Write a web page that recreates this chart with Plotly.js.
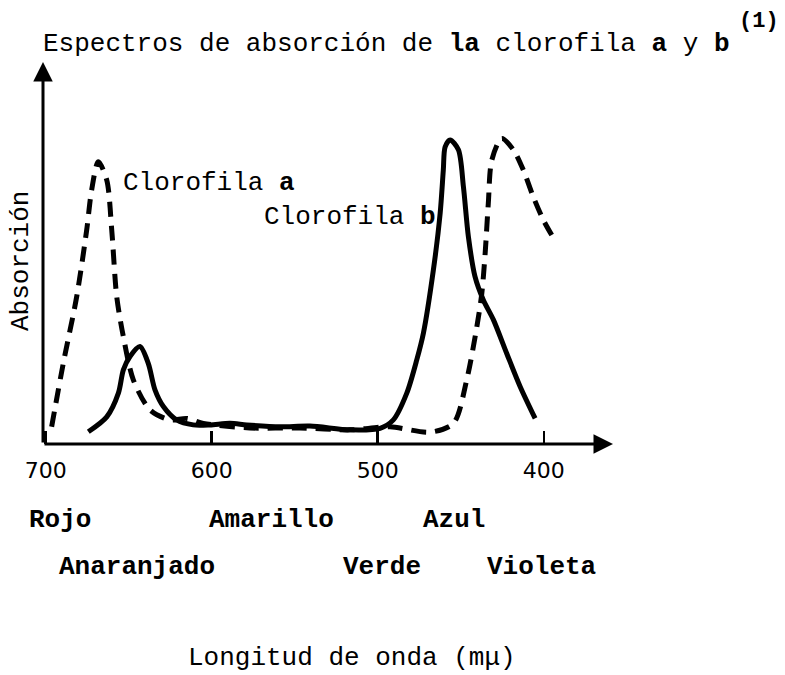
<!DOCTYPE html>
<html>
<head>
<meta charset="utf-8">
<script src="https://cdn.plot.ly/plotly-3.0.1.min.js"></script>
<style>html,body{margin:0;padding:0;background:#fff;}#chart{width:785px;height:675px;}</style>
</head>
<body>
<div id="chart"></div>
<script>
// Wavelength (mμ) and relative absorption
const clorofilaA_nm = [696.4, 689.4, 681.3, 675.3, 672.3, 668.3, 663.2, 660.2, 657.2, 653.2, 647.2, 637.1, 625.1, 615.0, 605.0, 577.0, 546.8, 516.7, 492.6, 468.5, 454.4, 446.4, 440.3, 437.3, 435.3, 433.4, 431.3, 425.3, 418.3, 412.3, 406.3, 400.2, 395.2];
const clorofilaA_abs = [4.5, 21.1, 38.6, 56.0, 66.5, 73.9, 69.1, 56.0, 38.6, 28.1, 16.8, 8.9, 6.3, 6.7, 5.4, 4.2, 4.2, 3.7, 4.5, 3.1, 5.4, 16.8, 30.7, 39.5, 49.9, 63.0, 74.3, 80.0, 77.0, 71.7, 64.7, 58.6, 54.7];

const clorofilaB_nm = [674.3, 663.2, 656.2, 653.2, 649.2, 643.2, 638.2, 634.1, 629.1, 621.1, 611.1, 601.0, 589.0, 578.9, 558.8, 540.8, 516.7, 498.6, 490.6, 482.5, 476.5, 472.5, 466.5, 462.4, 460.5, 459.4, 456.4, 451.4, 448.4, 445.4, 441.4, 436.4, 430.3, 422.3, 414.2, 405.2];
const clorofilaB_abs = [3.2, 7.1, 13.3, 19.4, 22.9, 25.5, 21.1, 14.1, 9.8, 6.3, 5.0, 5.0, 5.4, 5.0, 4.5, 4.7, 3.7, 4.1, 6.3, 13.3, 22.0, 29.0, 45.5, 60.4, 71.7, 77.8, 79.6, 77.0, 67.4, 54.3, 43.8, 37.7, 32.5, 23.7, 15.0, 6.7];

const tickValues = [700, 600, 500, 400];
const tickLabels = ['700', '600', '500', '400'];

const colorNames = ['Rojo', 'Amarillo', 'Azul', 'Anaranjado', 'Verde', 'Violeta'];

const titleText = 'Espectros de absorción de <b>la</b> clorofila <b>a</b> y <b>b</b>';
const titleNote = '(1)';
const yTitle = 'Absorción';
const xTitle = 'Longitud de onda (mμ)';
const labelA = 'Clorofila <b>a</b>';
const labelB = 'Clorofila <b>b</b>';

// ---- layout geometry (pixels) ----
const W = 785, H = 675;
const L = 43, R = 613, T = 62, B = 444;
const px = x => (x - L) / (R - L);
const py = y => (B - y) / (B - T);

const mono = 'Liberation Mono, Courier New, monospace';

const traces = [
  {x: clorofilaA_nm, y: clorofilaA_abs, mode: 'lines', name: 'Clorofila a',
   line: {color: '#000', width: 5, dash: '15px,9px', shape: 'spline', smoothing: 0.8}},
  {x: clorofilaB_nm, y: clorofilaB_abs, mode: 'lines', name: 'Clorofila b',
   line: {color: '#000', width: 5, shape: 'spline', smoothing: 0.8}}
];

function txt(text, x, y, opts) {
  return Object.assign({
    text: text, xref: 'paper', yref: 'paper', x: px(x), y: py(y),
    xanchor: 'left', yanchor: 'middle', showarrow: false,
    font: {family: mono, size: 26, color: '#000'}
  }, opts || {});
}

const annotations = [
  // axes with arrows
  {xref: 'paper', yref: 'paper', x: 1, y: 0, ax: -(R - L), ay: 0, text: '',
   showarrow: true, arrowhead: 2, arrowsize: 1.3, arrowwidth: 3, arrowcolor: '#000', standoff: 0},
  {xref: 'paper', yref: 'paper', x: 0, y: 1, ax: 0, ay: (B - T), text: '',
   showarrow: true, arrowhead: 2, arrowsize: 1.3, arrowwidth: 3, arrowcolor: '#000', standoff: 0},
  txt('<b>' + titleNote + '</b>', 737, 21, {font: {family: mono, size: 22, color: '#000'}}),
  txt(labelA, 121, 183),
  txt(labelB, 262, 217),
  txt(yTitle, 21, 261, {xanchor: 'center', textangle: -90}),
  txt('<b>' + colorNames[0] + '</b>', 27, 520),
  txt('<b>' + colorNames[1] + '</b>', 207, 520),
  txt('<b>' + colorNames[2] + '</b>', 421, 520),
  txt('<b>' + colorNames[3] + '</b>', 57, 567),
  txt('<b>' + colorNames[4] + '</b>', 341, 567),
  txt('<b>' + colorNames[5] + '</b>', 485, 567),
  txt(xTitle, 186, 658)
];

const layout = {
  width: W, height: H,
  margin: {l: L, r: W - R, t: T, b: H - B, pad: 0},
  paper_bgcolor: '#fff', plot_bgcolor: '#fff',
  showlegend: false,
  title: {text: titleText, x: 43 / W, xanchor: 'left', xref: 'container',
          y: 1 - 42 / H, yanchor: 'middle', yref: 'container',
          font: {family: mono, size: 26, color: '#000'}},
  xaxis: {range: [701.6, 358.3], showgrid: false, zeroline: false, showline: false,
          tickmode: 'array', tickvals: tickValues, ticktext: tickLabels,
          ticks: 'inside', ticklen: 13, tickwidth: 2.5, tickcolor: '#000',
          ticklabelstandoff: 11,
          tickfont: {family: 'DejaVu Sans, sans-serif', size: 22, color: '#000'}},
  yaxis: {range: [0, 100], showgrid: false, zeroline: false, showline: false,
          showticklabels: false, ticks: ''},
  annotations: annotations
};

Plotly.newPlot('chart', traces, layout, {displayModeBar: false, staticPlot: true});
</script>
</body>
</html>
